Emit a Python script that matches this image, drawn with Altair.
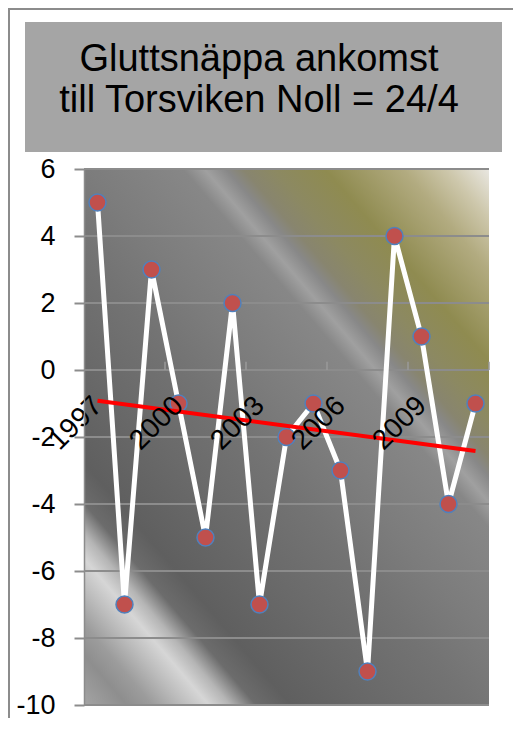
import altair as alt
import pandas as pd

# ---- data ----
YEARS = list(range(1997, 2012))
DAYS = [5, -7, 3, -1, -5, 2, -7, -2, -1, -3, -9, 4, 1, -4, -1]
X_LABELS = [1997, 2000, 2003, 2006, 2009]
X_TICK_MARKS = [1999.5, 2002.5, 2005.5, 2008.5, 2011.5]
Y_TICKS = [-10, -8, -6, -4, -2, 0, 2, 4, 6]
TITLE_LINES = ["Gluttsnäppa ankomst", "till Torsviken Noll = 24/4"]

W, H = 405, 536
FONT = "Liberation Sans"

df = pd.DataFrame({"year": YEARS, "days": DAYS})
one = alt.Data(values=[{}])

x_scale = alt.Scale(domain=[1996.5, 2011.5], nice=False, zero=False)
y_scale = alt.Scale(domain=[-10, 6], nice=False, zero=False)

AX_X = alt.Axis(values=X_LABELS, labelExpr="'' + datum.value", labelAngle=-45,
                labelAlign="right", labelBaseline="middle", labelFontSize=28,
                labelFont=FONT, labelColor="black", labelPadding=31, ticks=False,
                domain=False, grid=False, title=None, offset=-335, zindex=1,
                labelOverlap=False, labelBound=False, labelFlush=False)
AX_Y = alt.Axis(values=Y_TICKS, labelExpr="'' + datum.value", labelFontSize=27,
                labelFont=FONT, labelColor="black", labelPadding=19, tickSize=10,
                tickColor="#8c8c8c", tickWidth=2, domainColor="#8c8c8c",
                domainWidth=1.5, grid=False, title=None, zindex=1)

X = alt.X("year:Q", scale=x_scale, axis=AX_X)
Y = alt.Y("days:Q", scale=y_scale, axis=AX_Y)

# ---- decoration: outer frame (top and left edges), title box ----
frame_top = alt.Chart(one).mark_rule(color="#8c8c8c", strokeWidth=2).encode(
    x=alt.value(-76), x2=alt.value(600), y=alt.value(-160))
frame_left = alt.Chart(one).mark_rule(color="#8c8c8c", strokeWidth=2).encode(
    x=alt.value(-75), y=alt.value(-161), y2=alt.value(700))
title_box = alt.Chart(one).mark_rect(fill="#a5a5a5").encode(
    x=alt.value(-59), x2=alt.value(418), y=alt.value(-147), y2=alt.value(-17))
title1 = alt.Chart(one).mark_text(font=FONT, fontSize=38, color="black", align="center",
                                  baseline="alphabetic").encode(
    x=alt.value(175), y=alt.value(-98), text=alt.value(TITLE_LINES[0]))
title2 = alt.Chart(one).mark_text(font=FONT, fontSize=38, color="black", align="center",
                                  baseline="alphabetic").encode(
    x=alt.value(175), y=alt.value(-57), text=alt.value(TITLE_LINES[1]))

# ---- plot background gradient ----
stops = [
    (0.00, "#e9e7e1"), (0.05, "#cdc7ab"), (0.10, "#b2ab80"), (0.19, "#8f8b50"),
    (0.25, "#8c8962"), (0.285, "#88856f"), (0.305, "#888888"), (0.33, "#a0a0a0"),
    (0.355, "#878787"), (0.47, "#7c7c7c"), (0.55, "#737373"), (0.65, "#6a6a6a"),
    (0.76, "#5f5f5f"), (0.80, "#6c6c6c"), (0.83, "#b5b5b5"), (0.855, "#d6d6d6"),
    (0.885, "#bcbcbc"), (0.92, "#9c9c9c"), (0.95, "#8e8e8e"), (1.00, "#a4a4a4"),
]
grad = alt.Gradient(gradient="linear", x1=1, y1=0, x2=0.064, y2=1.057,
                    stops=[alt.GradientStop(offset=o, color=c) for o, c in stops])
bg = alt.Chart(one).mark_rect(fill=grad).encode(
    x=alt.value(0), x2=alt.value(W), y=alt.value(0), y2=alt.value(H))

grid = alt.Chart(pd.DataFrame({"days": Y_TICKS})).mark_rule(
    color="#8c8c8c", strokeWidth=2).encode(y=Y)

# small upward tick marks on the zero line between every third year
xticks = alt.Chart(pd.DataFrame({"year": X_TICK_MARKS})).mark_rule(
    color="#9a9a9a", strokeWidth=1.5).encode(x=X, y=alt.datum(0, scale=y_scale),
                                            y2=alt.datum(0.25))

line = alt.Chart(df).mark_line(color="white", strokeWidth=5).encode(x=X, y=Y)
pts = alt.Chart(df).mark_point(filled=True, fill="#c0504d", stroke="#4f81bd",
                               strokeWidth=1.5, size=289, opacity=1,
                               shape="circle").encode(x=X, y=Y)
trend = alt.Chart(df).transform_regression("year", "days").mark_line(
    color="#ff0000", strokeWidth=4).encode(x=X, y=Y)

chart = alt.layer(frame_top, frame_left, title_box, title1, title2, bg, grid, xticks,
                  line, pts, trend).properties(
    width=W, height=H,
    autosize=alt.AutoSizeParams(type="none"),
    padding={"left": 76, "top": 161, "right": 24, "bottom": 13},
).configure_view(stroke=None)

chart.save("out.html", embed_options={"renderer": "svg", "actions": False})
